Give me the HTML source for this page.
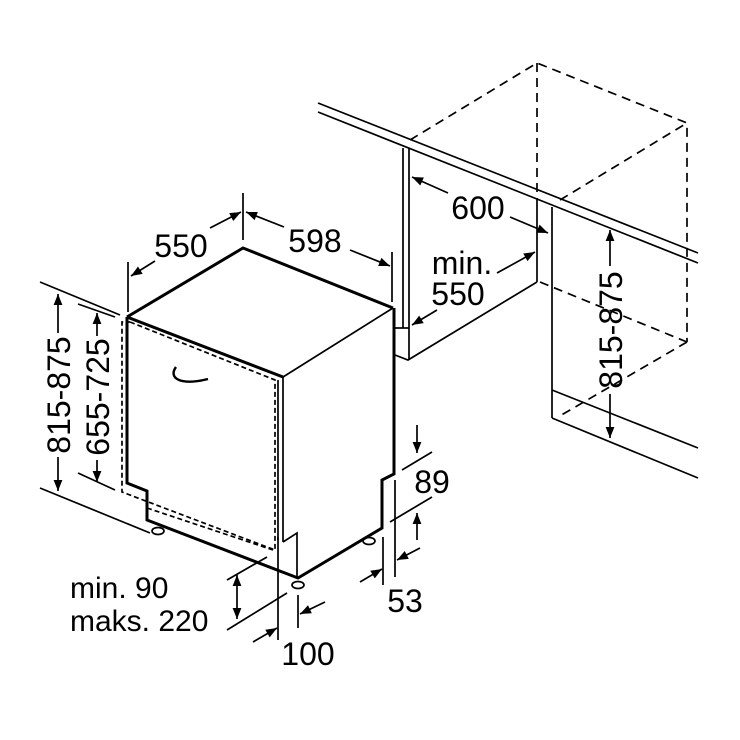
<!DOCTYPE html>
<html><head><meta charset="utf-8"><style>
html,body{margin:0;padding:0;background:#fff;}
svg{display:block;}
text{font-family:"Liberation Sans",Arial,sans-serif;fill:#000;}
</style></head><body>
<svg width="740" height="740" viewBox="0 0 740 740" xmlns="http://www.w3.org/2000/svg">
<defs>
<marker id="a" viewBox="0 0 10 10" refX="10" refY="5" markerWidth="15" markerHeight="11" markerUnits="userSpaceOnUse" orient="auto"><path d="M0,1 L10,5 L0,9 Z" fill="#000"/></marker>
</defs>
<g fill="none" stroke="#000" stroke-width="1.7">
<line x1="318" y1="103" x2="698" y2="253"/>
<line x1="318" y1="112" x2="698" y2="263"/>
<line x1="403" y1="148" x2="403" y2="328"/>
<line x1="409" y1="148" x2="409" y2="360"/>
<polyline points="395,328 409,328"/>
<polyline points="395,355 408,360 537,282"/>
<line x1="537" y1="200" x2="537" y2="282"/>
<line x1="552" y1="207" x2="552" y2="418"/>
<polyline points="552,390 698,448"/>
<polyline points="552,418 698,478"/>
<g stroke-dasharray="9,6">
<polyline points="410,140 537,63 687,123 687,342"/>
<line x1="537" y1="63" x2="537" y2="200"/>
<line x1="560" y1="200" x2="687" y2="123"/>
<line x1="540" y1="282" x2="687" y2="342"/>
<line x1="687" y1="342" x2="558" y2="417"/>
</g>
<g stroke-width="3">
<polyline points="127,317 243,248 393,308"/>
<line x1="127" y1="317" x2="283" y2="377"/>
<polyline points="127,317 127,483 147,491 147,520 298,578 382,528 382,480 394,474 394,308"/>
</g>
<line x1="283" y1="377" x2="393" y2="308"/>
<line x1="283" y1="377" x2="283" y2="542"/>
<line x1="278" y1="380" x2="278" y2="540"/>
<polyline points="283,542 297,533 297,578"/>
<path d="M176,367 C168,378 180,386 208,379" stroke-width="2.4"/>
<g stroke-dasharray="5,3">
<polyline points="130,322 275,380 275,550 122,492 122,322 130,322"/>
<line x1="147" y1="508" x2="273" y2="550"/>
</g>
<ellipse cx="158" cy="531" rx="6" ry="3.5"/>
<ellipse cx="298" cy="585" rx="6" ry="3.5"/>
<ellipse cx="369" cy="541" rx="6" ry="3.5"/>
<line x1="128" y1="262" x2="128" y2="312"/>
<line x1="243" y1="193" x2="243" y2="240"/>
<line x1="392" y1="252" x2="392" y2="302"/>
<line x1="155" y1="261" x2="131" y2="276" marker-end="url(#a)"/>
<line x1="210" y1="228" x2="241" y2="212" marker-end="url(#a)"/>
<line x1="284" y1="227" x2="246" y2="212" marker-end="url(#a)"/>
<line x1="350" y1="250" x2="390" y2="266" marker-end="url(#a)"/>
<line x1="40" y1="282" x2="120" y2="315"/>
<line x1="40" y1="488" x2="150" y2="533"/>
<line x1="78" y1="304" x2="115" y2="317"/>
<line x1="78" y1="473" x2="115" y2="490"/>
<line x1="58" y1="333" x2="58" y2="294" marker-end="url(#a)"/>
<line x1="58" y1="457" x2="58" y2="491" marker-end="url(#a)"/>
<line x1="97" y1="336" x2="97" y2="313" marker-end="url(#a)"/>
<line x1="97" y1="460" x2="97" y2="482" marker-end="url(#a)"/>
<line x1="448" y1="193" x2="412" y2="177" marker-end="url(#a)"/>
<line x1="510" y1="217" x2="548" y2="233" marker-end="url(#a)"/>
<line x1="497" y1="273" x2="535" y2="252" marker-end="url(#a)"/>
<line x1="437" y1="310" x2="412" y2="325" marker-end="url(#a)"/>
<line x1="610" y1="266" x2="610" y2="230" marker-end="url(#a)"/>
<line x1="610" y1="394" x2="610" y2="438" marker-end="url(#a)"/>
<line x1="417" y1="425" x2="417" y2="453" marker-end="url(#a)"/>
<line x1="402" y1="470" x2="432" y2="452"/>
<line x1="390" y1="522" x2="432" y2="497"/>
<line x1="417" y1="540" x2="417" y2="513" marker-end="url(#a)"/>
<line x1="383" y1="537" x2="383" y2="585"/>
<line x1="395" y1="480" x2="395" y2="577"/>
<line x1="360" y1="582" x2="382" y2="569" marker-end="url(#a)"/>
<line x1="420" y1="548" x2="397" y2="560" marker-end="url(#a)"/>
<line x1="278" y1="537" x2="278" y2="640"/>
<line x1="298" y1="595" x2="298" y2="628"/>
<line x1="253" y1="642" x2="277" y2="628" marker-end="url(#a)"/>
<line x1="325" y1="602" x2="300" y2="614" marker-end="url(#a)"/>
<line x1="227" y1="580" x2="267" y2="557"/>
<line x1="227" y1="630" x2="287" y2="593"/>
<line x1="237" y1="597" x2="237" y2="575" marker-end="url(#a)"/>
<line x1="237" y1="597" x2="237" y2="619" marker-end="url(#a)"/>
</g>
<g font-size="32">
<text x="181" y="257" text-anchor="middle">550</text>
<text x="315" y="252" text-anchor="middle">598</text>
<text x="478" y="219" text-anchor="middle">600</text>
<text x="462" y="274" text-anchor="middle">min.</text>
<text x="458" y="305" text-anchor="middle">550</text>
<text x="432" y="493" text-anchor="middle">89</text>
<text x="405" y="612" text-anchor="middle">53</text>
<text x="308" y="665" text-anchor="middle">100</text>
<text transform="translate(70,395) rotate(-90)" text-anchor="middle">815-875</text>
<text transform="translate(109,397) rotate(-90)" text-anchor="middle">655-725</text>
<text transform="translate(622,330) rotate(-90)" text-anchor="middle">815-875</text>
</g>
<g font-size="30">
<text x="70" y="598">min. 90</text>
<text x="70" y="631">maks. 220</text>
</g>
</svg>
</body></html>
